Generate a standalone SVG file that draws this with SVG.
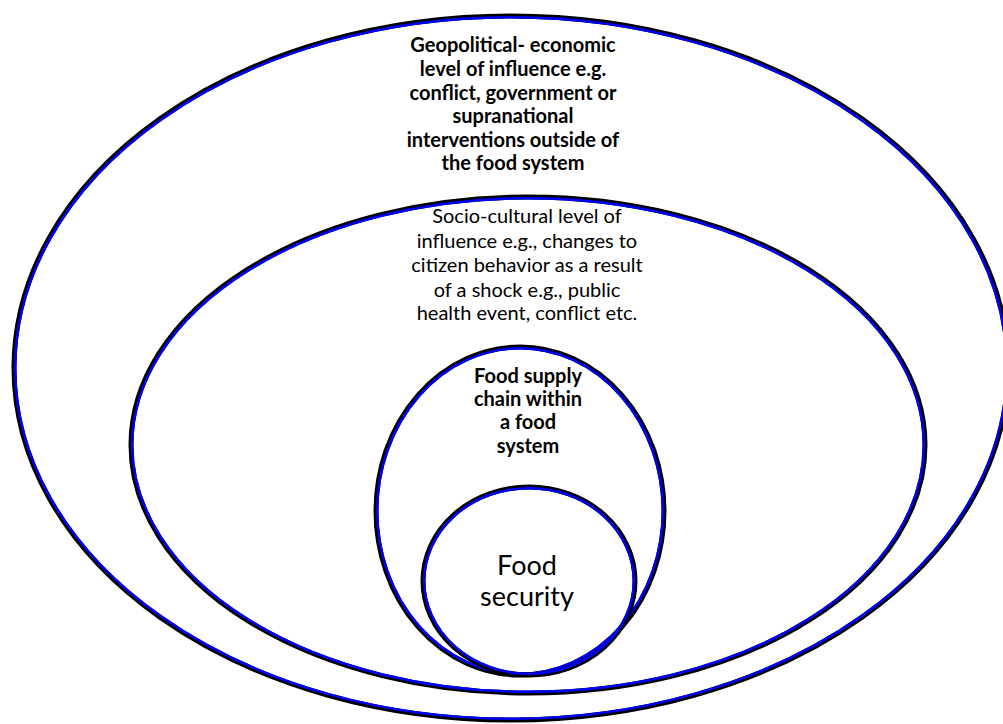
<svg xmlns="http://www.w3.org/2000/svg" width="1003" height="724" viewBox="0 0 1003 724">
<style>
.k{fill:none;stroke:#000;stroke-width:5}
.b{fill:none;stroke:#0000ff;stroke-width:2.4}
.t{font-family:Lato,"Open Sans",sans-serif;fill:#000;text-anchor:middle}
.bold{font-weight:bold;font-size:20px}
.reg{font-size:20px}
.big{font-size:27px}
</style>
<rect width="1003" height="724" fill="#fff"/>
<g id="geopolitical">
<ellipse class="k" cx="511" cy="368" rx="497" ry="352"/>
<ellipse class="b" cx="511" cy="368" rx="495.8" ry="350.8"/>
<text class="t bold"><tspan x="513" y="52">Geopolitical- economic</tspan><tspan x="513" y="76">level of influence e.g.</tspan><tspan x="513" y="100">conflict, government or</tspan><tspan x="513" y="123">supranational</tspan><tspan x="513" y="147">interventions outside of</tspan><tspan x="513" y="170">the food system</tspan></text>
</g>
<g id="sociocultural">
<ellipse class="k" cx="528" cy="445" rx="397" ry="248"/>
<ellipse class="b" cx="528" cy="445" rx="395.8" ry="246.8"/>
<text class="t reg"><tspan x="527" y="223">Socio-cultural level of</tspan><tspan x="527" y="248">influence e.g., changes to</tspan><tspan x="527" y="272">citizen behavior as a result</tspan><tspan x="527" y="297">of a shock e.g., public</tspan><tspan x="527" y="320">health event, conflict etc.</tspan></text>
</g>
<g id="supplychain">
<ellipse class="k" cx="520" cy="511" rx="144" ry="164"/>
<ellipse class="b" cx="520" cy="511" rx="142.8" ry="162.8"/>
<text class="t bold"><tspan x="528" y="383">Food supply</tspan><tspan x="528" y="406">chain within</tspan><tspan x="528" y="429">a food</tspan><tspan x="528" y="453">system</tspan></text>
</g>
<g id="foodsecurity">
<ellipse class="k" cx="529" cy="581" rx="106" ry="94"/>
<ellipse class="b" cx="529" cy="581" rx="104.8" ry="92.8"/>
<text class="t big"><tspan x="527" y="575">Food</tspan><tspan x="527" y="606">security</tspan></text>
</g>
<g id="connectors"/>
</svg>
